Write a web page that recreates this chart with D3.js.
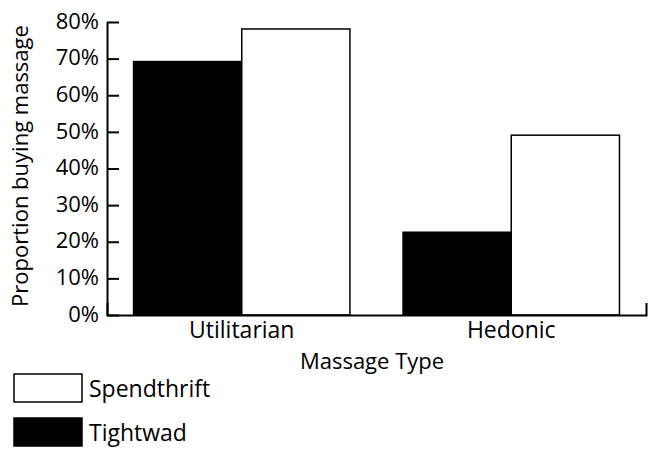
<!DOCTYPE html>
<html>
<head>
<meta charset="utf-8">
<script src="https://cdn.jsdelivr.net/npm/d3@7"></script>
<style>
  body { margin: 0; background: #fff; }
  text { font-family: "Open Sans", sans-serif; fill: #000; }
</style>
</head>
<body>
<script>
// values
const categories = ["Utilitarian", "Hedonic"];
const groups = ["Tightwad", "Spendthrift"];
const tightwadValues = [69.2, 22.6];
const spendthriftValues = [78.1, 49.1];
const yTicks = [0, 10, 20, 30, 40, 50, 60, 70, 80];
const legendItems = ["Spendthrift", "Tightwad"];

const width = 652;
const height = 449;
const fontSize = 22;
const groupColors = { Tightwad: "#000", Spendthrift: "#fff" };

// build one row per bar
const rows = [];
categories.forEach((c, i) => {
  rows.push({ category: c, group: "Tightwad", value: tightwadValues[i] });
  rows.push({ category: c, group: "Spendthrift", value: spendthriftValues[i] });
});

const svg = d3
  .select("body")
  .append("svg")
  .attr("width", width)
  .attr("height", height);

const x = d3
  .scaleBand()
  .domain(categories)
  .range([107, 646])
  .paddingInner(0.197)
  .paddingOuter(0.0985);

const xSub = d3.scaleBand().domain(groups).range([0, x.bandwidth()]);

const y = d3.scaleLinear().domain([0, 80]).range([315, 22]);

// bars
svg
  .selectAll("rect.bar")
  .data(rows)
  .join("rect")
  .attr("class", "bar")
  .attr("x", (d) => x(d.category) + xSub(d.group))
  .attr("y", (d) => y(d.value))
  .attr("width", xSub.bandwidth())
  .attr("height", (d) => y(0) - y(d.value))
  .attr("fill", (d) => groupColors[d.group])
  .attr("stroke", "#000")
  .attr("stroke-width", 1.5);

// y axis, ticks pointing inward
const yAxis = svg
  .append("g")
  .attr("transform", "translate(107,0)")
  .call(
    d3
      .axisLeft(y)
      .tickValues(yTicks)
      .tickSize(-12)
      .tickSizeOuter(0)
      .tickPadding(8)
      .tickFormat((d) => d + "%")
  );
yAxis.selectAll("path, line").attr("stroke", "#000").attr("stroke-width", 2);
yAxis
  .selectAll("text")
  .attr("font-size", fontSize)
  .attr("font-family", "'Open Sans', sans-serif")
  .attr("dy", "0.28em");

// x axis, only the end tick points up
const xAxis = svg
  .append("g")
  .attr("transform", "translate(0,315)")
  .call(d3.axisBottom(x).tickSize(0).tickSizeOuter(-12).tickPadding(7));
xAxis.select("path").attr("stroke", "#000").attr("stroke-width", 2);
xAxis
  .selectAll("text")
  .attr("font-size", 23)
  .attr("font-family", "'Open Sans', sans-serif");

// axis titles
svg
  .append("text")
  .attr("transform", "translate(28,166) rotate(-90)")
  .attr("text-anchor", "middle")
  .attr("font-size", fontSize)
  .text("Proportion buying massage");

svg
  .append("text")
  .attr("x", 372)
  .attr("y", 369)
  .attr("text-anchor", "middle")
  .attr("font-size", fontSize)
  .text("Massage Type");

// legend
const legend = svg
  .selectAll("g.legend")
  .data(legendItems)
  .join("g")
  .attr("class", "legend")
  .attr("transform", (d, i) => `translate(14,${374 + i * 44})`);

legend
  .append("rect")
  .attr("width", 68)
  .attr("height", 28)
  .attr("fill", (d) => groupColors[d])
  .attr("stroke", "#000")
  .attr("stroke-width", 1.5);

legend
  .append("text")
  .attr("x", 75)
  .attr("y", 23)
  .attr("font-size", 23)
  .text((d) => d);
</script>
</body>
</html>
